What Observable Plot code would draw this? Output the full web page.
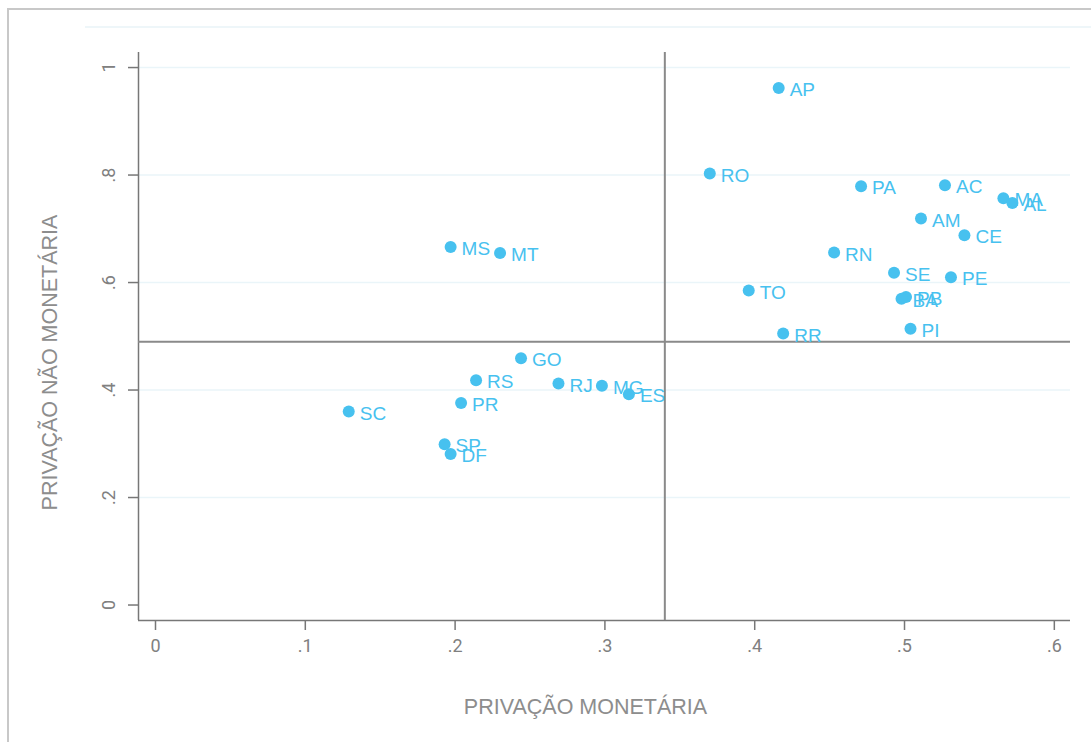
<!DOCTYPE html>
<html><head><meta charset="utf-8">
<script src="https://cdn.jsdelivr.net/npm/d3@7"></script>
<script src="https://cdn.jsdelivr.net/npm/@observablehq/plot@0.6"></script>
<style>
html,body{margin:0;padding:0;background:#fff;width:1091px;height:742px;overflow:hidden}
#wrap{position:relative;width:1091px;height:742px}
#wrap svg{position:absolute;left:0;top:0}
#frame{position:absolute;left:7px;top:8px;right:-5px;bottom:-5px;border-left:2px solid #c8c8c8;border-top:2px solid #c8c8c8;pointer-events:none}
#faint{position:absolute;left:85px;top:26px;right:0;height:2px;background:#eef6f9;pointer-events:none}
</style></head><body><div id="wrap"></div>
<script>
const states = ["AP","RO","PA","AC","MA","AL","AM","CE","RN","SE","PE","PB","BA","TO","RR","PI","MS","MT","GO","RS","RJ","MG","ES","PR","SC","SP","DF"];
const privMonetaria = [0.416,0.370,0.471,0.527,0.566,0.572,0.511,0.540,0.453,0.493,0.531,0.501,0.498,0.396,0.419,0.504,0.197,0.230,0.244,0.214,0.269,0.298,0.316,0.204,0.129,0.193,0.197];
const privNaoMonetaria = [0.962,0.803,0.779,0.781,0.757,0.748,0.719,0.688,0.656,0.618,0.610,0.573,0.570,0.585,0.505,0.514,0.666,0.655,0.459,0.418,0.412,0.408,0.392,0.376,0.360,0.299,0.281];
const xTicks = [0, 0.1, 0.2, 0.3, 0.4, 0.5, 0.6];
const yTicks = [0, 0.2, 0.4, 0.6, 0.8, 1];
const meanX = 0.34;
const meanY = 0.49;
const xTitle = "PRIVAÇÃO MONETÁRIA";
const yTitle = "PRIVAÇÃO NÃO MONETÁRIA";

const data = states.map((s, i) => ({uf: s, x: privMonetaria[i], y: privNaoMonetaria[i]}));
const xDomain = [-0.01135, 0.6108];
const yDomain = [-0.0288, 1.028];
const fmt = d => d === 0 ? "0" : d === 1 ? "1" : String(+d.toFixed(1)).replace(/^0\./, ".");
const blue = "#47c1ef";
const grey = "#808080";

const chart = Plot.plot({
  width: 1091,
  height: 742,
  marginLeft: 138,
  marginRight: 21,
  marginTop: 52,
  marginBottom: 122,
  style: {background: "transparent", fontFamily: "'Liberation Sans', Arial, sans-serif"},
  x: {domain: xDomain},
  y: {domain: yDomain},
  marks: [
    Plot.gridY(yTicks.filter(d => d > 0), {stroke: "#eaf5f9", strokeOpacity: 1, strokeWidth: 1.5}),
    Plot.ruleX([xDomain[0]], {stroke: "#777", strokeWidth: 1.5}),
    Plot.ruleY([yDomain[0]], {stroke: "#777", strokeWidth: 1.5}),
    Plot.ruleX([meanX], {stroke: "#8a8a8a", strokeWidth: 2}),
    Plot.ruleY([meanY], {stroke: "#8a8a8a", strokeWidth: 2}),
    Plot.axisX(xTicks, {tickSize: 10, tickPadding: 9, tickFormat: fmt, fontSize: 18, stroke: "#777", strokeWidth: 1.5, fill: grey, fontFamily: "Roboto, sans-serif", label: null}),
    Plot.axisY(yTicks, {tickSize: 10, tickPadding: 14, tickRotate: -90, tickFormat: fmt, fontSize: 18, stroke: "#777", strokeWidth: 1.5, fill: grey, fontFamily: "Roboto, sans-serif", label: null}),
    Plot.dot(data, {x: "x", y: "y", r: 6, fill: blue, stroke: "none"}),
    Plot.text(data, {x: "x", y: "y", text: "uf", dx: 11, dy: 2, textAnchor: "start", fill: blue, fontSize: 19}),
    Plot.text([xTitle], {frameAnchor: "bottom", textAnchor: "middle", lineAnchor: "middle", dx: -19, dy: 87, fill: "#8d8d8d", fontSize: 21.5}),
    Plot.text([yTitle], {frameAnchor: "left", textAnchor: "middle", lineAnchor: "middle", dx: -88, dy: 26, rotate: -90, fill: "#8d8d8d", fontSize: 21.5})
  ]
});
const wrap = document.getElementById("wrap");
wrap.appendChild(chart);
const f = document.createElement("div"); f.id = "frame"; wrap.appendChild(f);
const g = document.createElement("div"); g.id = "faint"; wrap.appendChild(g);
</script>
</body></html>
